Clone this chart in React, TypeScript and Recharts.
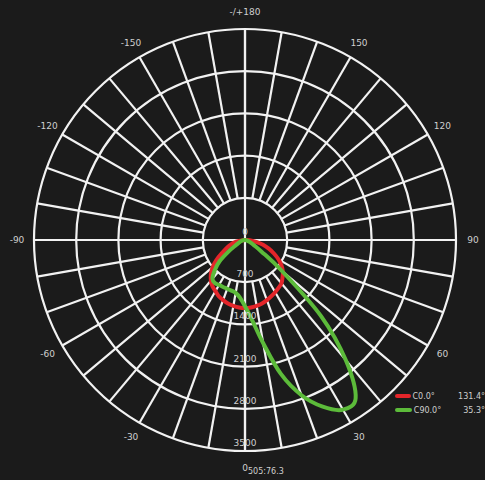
import React from 'react';
import { RadarChart, Radar, PolarGrid, PolarAngleAxis, PolarRadiusAxis, Legend } from 'recharts';

// ---- data ----
const angles = [-180, -90, -80, -70, -60, -55, -50, -45, -40, -35, -30, -25, -20, -15, -10, -5, 0, 5, 10, 15, 20, 25, 30, 35, 40, 45, 50, 55, 60, 65, 70, 75, 80, 85, 90, 180];
const redValues = [0, 0, 150, 280, 450, 580, 700, 800, 880, 940, 980, 1030, 1060, 1090, 1110, 1125, 1130, 1125, 1110, 1090, 1060, 1030, 1000, 970, 940, 880, 820, 740, 640, 530, 420, 310, 200, 110, 40, 0];
const greenValues = [0, 0, 40, 90, 180, 330, 550, 710, 840, 870, 860, 860, 860, 870, 890, 960, 1100, 1330, 1740, 2300, 2740, 3050, 3250, 3200, 2600, 1780, 800, 330, 170, 110, 70, 40, 20, 0, 0, 0];

const seriesNames = ['C0.0°', 'C90.0°'];
const seriesKeys = ['c0', 'c90'];
const seriesColors = ['#e4252a', '#5cbb3a'];
const beamAngles = ['131.4°', '35.3°'];

const angleTickValues = [-180, -150, -120, -90, -60, -30, 0, 30, 60, 90, 120, 150];
const angleTickLabels = ['-/+180', '-150', '-120', '-90', '-60', '-30', '0', '30', '60', '90', '120', '150'];
const gridAngleValues = [-180, -170, -160, -150, -140, -130, -120, -110, -100, -90, -80, -70, -60, -50, -40, -30, -20, -10, 0, 10, 20, 30, 40, 50, 60, 70, 80, 90, 100, 110, 120, 130, 140, 150, 160, 170];
const axisCrossValues = [-180, -90, 0, 90];
const radiusTicks = [0, 700, 1400, 2100, 2800, 3500];
const footerText = '505:76.3';

const data = angles.map((a, i) => ({ angle: a, c0: redValues[i], c90: greenValues[i] }));

// ---- layout ----
const W = 485;
const H = 480;
const CX = 245;
const CY = 240;
const R = 211;
const START = -270;
const END = 90;
const BG = '#1b1b1b';
const GRID = '#f2f2f2';
const TEXT = '#cfcfcf';
const FONT = 'DejaVu Sans, sans-serif';
const maxR = radiusTicks[radiusTicks.length - 1];
const innerGridRadius = (R * radiusTicks[1]) / maxR;
const toScreen = (v: number) => START + ((v - -180) / 360) * (END - START);

type Pt = { x: number; y: number };
function smoothClosedPath(input: Pt[]): string {
  const p: Pt[] = [];
  input.forEach((q) => {
    const last = p[p.length - 1];
    if (!last || Math.abs(last.x - q.x) > 0.5 || Math.abs(last.y - q.y) > 0.5) p.push({ x: q.x, y: q.y });
  });
  while (p.length > 1 && Math.abs(p[0].x - p[p.length - 1].x) < 0.5 && Math.abs(p[0].y - p[p.length - 1].y) < 0.5) p.pop();
  const n = p.length;
  if (n < 3) return '';
  let d = `M${p[0].x},${p[0].y}`;
  for (let i = 0; i < n; i++) {
    const p0 = p[(i - 1 + n) % n];
    const p1 = p[i];
    const p2 = p[(i + 1) % n];
    const p3 = p[(i + 2) % n];
    const c1x = p1.x + (p2.x - p0.x) / 6;
    const c1y = p1.y + (p2.y - p0.y) / 6;
    const c2x = p2.x - (p3.x - p1.x) / 6;
    const c2y = p2.y - (p3.y - p1.y) / 6;
    d += ` C${c1x},${c1y} ${c2x},${c2y} ${p2.x},${p2.y}`;
  }
  return d + ' Z';
}

const makeShape = (color: string) => (props: any) => (
  <path d={smoothClosedPath(props.points || [])} fill="none" stroke={color} strokeWidth={4}
    strokeLinejoin="round" strokeLinecap="round" />
);

const AngleTick = (props: any) => {
  const { x, y, payload } = props;
  const i = angleTickValues.indexOf(payload.value);
  return (
    <text x={x} y={y} textAnchor="middle" dominantBaseline="central" fill={TEXT} fontSize={9} fontFamily={FONT}>
      {i >= 0 ? angleTickLabels[i] : payload.value}
    </text>
  );
};

const RadiusTick = (props: any) => {
  const { x, y, payload } = props;
  return (
    <text x={x} y={y - 8} textAnchor="middle" dominantBaseline="central" fill={TEXT} fontSize={9} fontFamily={FONT}>
      {payload.value}
    </text>
  );
};

const LegendContent = () => (
  <div style={{ fontFamily: FONT, fontSize: 8, color: TEXT }}>
    {seriesNames.map((n, i) => (
      <div key={n} style={{ display: 'flex', alignItems: 'center', height: 14 }}>
        <div style={{ width: 17, height: 4, background: seriesColors[i], borderRadius: 2 }} />
        <span style={{ marginLeft: 2, width: 50 }}>{n}</span>
        <span>{beamAngles[i]}</span>
      </div>
    ))}
  </div>
);

export default function App() {
  return (
    <div style={{ position: 'fixed', left: 0, top: 0, width: W, height: H, background: BG }}>
      <div style={{ position: 'absolute', left: 0, top: 0 }}>
        <RadarChart width={W} height={H} data={data} cx={CX} cy={CY} innerRadius={innerGridRadius} outerRadius={R}
          startAngle={START} endAngle={END} margin={{ top: 0, right: 0, bottom: 0, left: 0 }}>
          <PolarAngleAxis dataKey="angle" type="number" domain={[-180, 180]} ticks={gridAngleValues as any}
            tick={false} tickLine={false} axisLine={false} />
          <PolarRadiusAxis domain={[0, maxR]} tick={false} axisLine={false} />
          <PolarGrid gridType="circle" polarRadius={[]} stroke={GRID} strokeWidth={2.2} strokeOpacity={1} />
        </RadarChart>
      </div>
      <div style={{ position: 'absolute', left: 0, top: 0 }}>
        <RadarChart width={W} height={H} data={data} cx={CX} cy={CY} innerRadius={0} outerRadius={R}
          startAngle={START} endAngle={END} margin={{ top: 0, right: 0, bottom: 0, left: 0 }}>
          <PolarGrid gridType="circle" polarAngles={axisCrossValues.map(toScreen)} stroke={GRID} strokeWidth={2.2} strokeOpacity={1} />
          <PolarAngleAxis dataKey="angle" type="number" domain={[-180, 180]} ticks={angleTickValues as any}
            tick={<AngleTick />} tickLine={false} axisLine={false} tickSize={17} />
          <PolarRadiusAxis angle={270} domain={[0, maxR]} ticks={radiusTicks as any} tickCount={6}
            tick={<RadiusTick />} tickLine={false} axisLine={false} />
          {seriesKeys.map((k, i) => (
            <Radar key={k} name={seriesNames[i]} dataKey={k} stroke={seriesColors[i]} strokeWidth={4}
              fill="none" fillOpacity={0} dot={false} isAnimationActive={false}
              shape={makeShape(seriesColors[i])} />
          ))}
          <Legend layout="vertical" align="right" verticalAlign="middle" content={<LegendContent />}
            wrapperStyle={{ position: 'absolute', left: 395, top: 389, width: 90 }} />
        </RadarChart>
      </div>
      <div style={{ position: 'absolute', left: 248, top: 467, fontFamily: FONT, fontSize: 8, color: TEXT }}>{footerText}</div>
    </div>
  );
}
